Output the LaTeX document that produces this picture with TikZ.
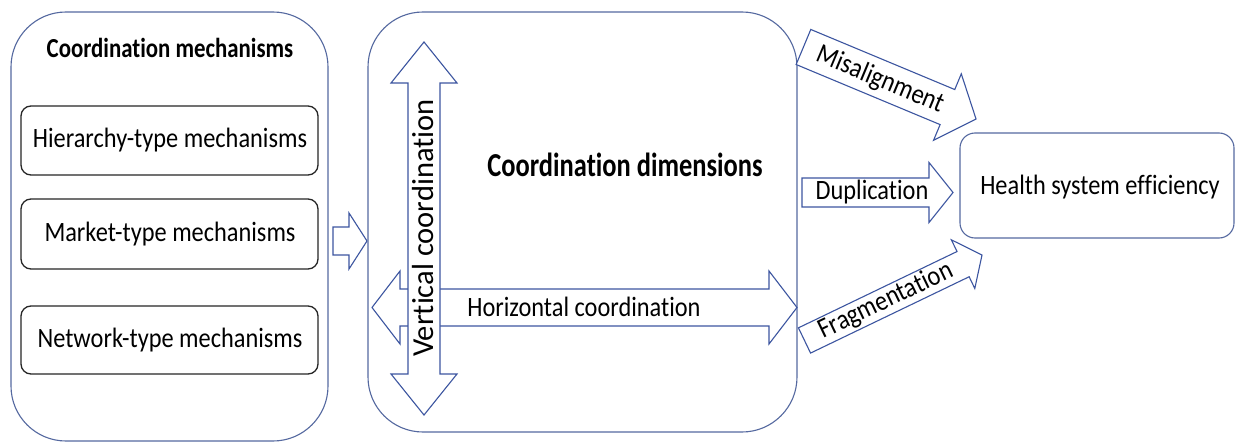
\documentclass[tikz,border=0pt]{standalone}
\usepackage{fontspec}
\usepackage{graphicx}
\setmainfont{Carlito}[Ligatures=NoCommon]
\definecolor{boxblue}{RGB}{85,105,160}
\definecolor{arrblue}{RGB}{60,85,160}
\newcommand\cnd[2][0.87]{\scalebox{#1}[1]{#2}}
\newcommand\blockarr[7]{% cx, cy, angle, L, s, H, h
  \draw[arrline, shift={(#1,#2)}, rotate=#3]
    ({-(#4)/2},{-(#5)}) -- ({(#4)/2-(#7)},{-(#5)}) -- ({(#4)/2-(#7)},{-(#6)})
    -- ({(#4)/2},0) -- ({(#4)/2-(#7)},{#6}) -- ({(#4)/2-(#7)},{#5})
    -- ({-(#4)/2},{#5}) -- cycle;}
\newcommand\dblockarr[7]{% cx, cy, angle, L, s, H, h
  \draw[arrline, shift={(#1,#2)}, rotate=#3]
    ({-(#4)/2+(#7)},{-(#5)}) -- ({(#4)/2-(#7)},{-(#5)}) -- ({(#4)/2-(#7)},{-(#6)})
    -- ({(#4)/2},0) -- ({(#4)/2-(#7)},{#6}) -- ({(#4)/2-(#7)},{#5})
    -- ({-(#4)/2+(#7)},{#5}) -- ({-(#4)/2+(#7)},{#6}) -- ({-(#4)/2},0)
    -- ({-(#4)/2+(#7)},{-(#6)}) -- cycle;}
\begin{document}
\begin{tikzpicture}[x=1pt,y=-1pt,
  bigbox/.style={draw=boxblue, line width=1.1pt, rounded corners=55pt},
  mechbox/.style={draw=black!85, line width=1.3pt, rounded corners=10pt},
  arrline/.style={draw=arrblue, line width=1.1pt, fill=white, line join=miter},
  lbl/.style={inner sep=0pt, font=\fontsize{28}{32}\selectfont}]
\useasboundingbox (0,0) rectangle (1235,444);
\fill[white] (0,0) rectangle (1235,444);
% left panel
\draw[bigbox] (11,12) rectangle (328,441);
\node[inner sep=0pt, font=\fontsize{27.5}{31}\selectfont\bfseries] (cmech) at (170,48) {\cnd[0.83]{Coordination mechanisms}};
\draw[mechbox] (21,106) rectangle (318,175);
\draw[mechbox] (21,199) rectangle (318,269);
\draw[mechbox] (21,306) rectangle (318,374);
\node[lbl] (hier) at (170,140) {\cnd{Hierarchy-type mechanisms}};
\node[lbl] (mark) at (170,234) {\cnd{Market-type mechanisms}};
\node[lbl] (netw) at (170,340) {\cnd{Network-type mechanisms}};
% connecting arrow
\blockarr{350}{241}{0}{34}{14}{28}{18}
% middle panel
\draw[bigbox] (368,12) rectangle (797,432);
\dblockarr{584.5}{307.5}{0}{425}{18.5}{36.5}{28}
\dblockarr{424}{228.5}{90}{373}{16}{33}{41}
\node[inner sep=0pt, rotate=90, font=\fontsize{30.5}{34}\selectfont] (vert) at (423,228) {Vertical coordination};
\node[lbl] (horiz) at (584,307) {\cnd{Horizontal coordination}};
\node[inner sep=0pt, font=\fontsize{33.5}{38}\selectfont\bfseries] (cdim) at (625,165) {\cnd[0.79]{Coordination dimensions}};
% right arrows
\blockarr{889.75}{83}{-22.65}{187}{19}{36}{31}
\node[lbl, rotate=-22.65] (mis) at (880,80) {\cnd{Misalignment}};
\blockarr{877.5}{192.5}{0}{151}{14.5}{30}{24}
\node[lbl] (dup) at (872,192) {\cnd{Duplication}};
\blockarr{893.25}{297.75}{25.7}{197}{14}{27}{21}
\node[lbl, rotate=25.7] (frag) at (886,301) {\cnd{Fragmentation}};
% health box
\draw[draw=boxblue, line width=1.1pt, rounded corners=15pt] (960,133) rectangle (1234,238);
\node[lbl] (health) at (1100,187) {\cnd{Health system efficiency}};
\end{tikzpicture}
\end{document}
